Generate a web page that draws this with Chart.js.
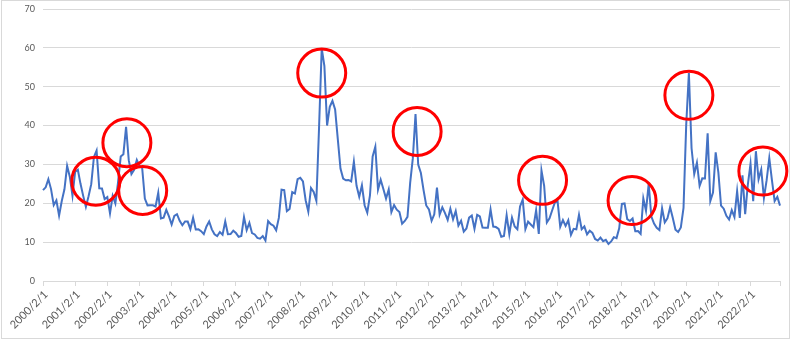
<!DOCTYPE html>
<html>
<head>
<meta charset="utf-8">
<script src="https://cdn.jsdelivr.net/npm/chart.js@4/dist/chart.umd.min.js"></script>
<style>
  html, body { margin: 0; padding: 0; background: #ffffff; }
  #wrap { position: relative; width: 800px; height: 340px; }
</style>
</head>
<body>
<div id="wrap"><canvas id="c" width="800" height="340"></canvas></div>
<script>
// Monthly closing levels, one array per calendar year (2000 starts in February)
const v2000 = [23.37, 24.11, 26.20, 23.65, 19.54, 20.74, 16.84, 20.57, 23.60, 29.65, 26.85];
const v2001 = [21.95, 28.13, 28.64, 25.01, 21.90, 19.06, 21.80, 24.92, 31.93, 33.56, 23.84, 23.80];
const v2002 = [21.09, 21.59, 17.40, 21.91, 19.98, 25.40, 32.03, 32.64, 39.69, 31.10, 27.50, 28.62];
const v2003 = [31.17, 29.63, 29.15, 21.21, 19.47, 19.52, 19.49, 19.18, 22.72, 16.10, 16.32, 18.31];
const v2004 = [16.63, 14.55, 16.74, 17.19, 15.50, 14.34, 15.32, 15.29, 13.34, 16.27, 13.24, 13.29];
const v2005 = [12.82, 12.08, 14.02, 15.31, 13.29, 12.04, 11.57, 12.60, 11.92, 15.32, 12.06, 12.07];
const v2006 = [12.95, 12.34, 11.39, 11.59, 16.44, 13.08, 14.95, 12.31, 11.98, 11.10, 10.91, 11.56];
const v2007 = [10.42, 15.42, 14.64, 14.22, 13.05, 16.23, 23.52, 23.38, 18.00, 18.53, 22.87, 22.50];
const v2008 = [26.20, 26.54, 25.61, 20.79, 17.83, 23.95, 22.94, 20.65, 39.39, 59.89, 55.28, 40.00];
const v2009 = [44.84, 46.35, 44.14, 36.50, 28.92, 26.35, 25.92, 26.01, 25.61, 30.69, 24.51, 21.68];
const v2010 = [24.62, 19.50, 17.59, 22.05, 32.07, 34.54, 23.50, 26.05, 23.70, 21.20, 23.54, 17.75];
const v2011 = [19.53, 18.35, 17.74, 14.75, 15.45, 16.52, 25.25, 31.62, 42.96, 29.96, 27.80, 23.40];
const v2012 = [19.44, 18.43, 15.50, 17.15, 24.06, 17.08, 18.93, 17.47, 15.73, 18.60, 15.87, 18.02];
const v2013 = [14.28, 15.51, 12.70, 13.52, 16.30, 16.86, 13.45, 17.01, 16.60, 13.75, 13.70, 13.72];
const v2014 = [18.41, 14.00, 13.88, 13.41, 11.40, 11.57, 16.95, 12.09, 16.31, 14.03, 13.33, 19.20];
const v2015 = [20.97, 13.34, 15.29, 14.55, 13.84, 18.23, 12.12, 28.43, 24.50, 15.07, 16.13, 18.21];
const v2016 = [20.20, 20.55, 13.95, 15.70, 14.19, 15.63, 11.87, 13.42, 13.29, 17.06, 13.33, 14.04];
const v2017 = [11.99, 12.92, 12.37, 10.82, 10.41, 11.18, 10.26, 10.59, 9.51, 10.18, 11.28, 11.04];
const v2018 = [13.54, 19.85, 19.97, 15.93, 15.43, 16.09, 12.83, 12.86, 12.12, 21.23, 18.07, 25.00];
const v2019 = [16.57, 14.78, 13.71, 13.12, 18.71, 15.08, 16.12, 18.98, 16.24, 13.22, 12.62, 13.78];
const v2020 = [18.84, 40.11, 53.54, 34.15, 27.51, 30.43, 24.46, 26.41, 26.37, 38.02, 20.57, 22.75];
const v2021 = [33.09, 27.95, 19.40, 18.61, 16.76, 15.83, 18.24, 16.48, 23.14, 16.26, 27.19, 17.22];
const v2022 = [24.83, 30.15, 20.56, 33.40, 26.19, 28.71, 21.33, 25.87, 31.62, 25.88, 20.58, 21.67];
const v2023 = [19.40];

// Labelled ticks on the date axis
const yearTicks = ['2000/2/1', '2001/2/1', '2002/2/1', '2003/2/1', '2004/2/1', '2005/2/1',
  '2006/2/1', '2007/2/1', '2008/2/1', '2009/2/1', '2010/2/1', '2011/2/1', '2012/2/1',
  '2013/2/1', '2014/2/1', '2015/2/1', '2016/2/1', '2017/2/1', '2018/2/1', '2019/2/1',
  '2020/2/1', '2021/2/1', '2022/2/1'];

// Highlighted episodes: centre month index and level of each ring
const highlightMonth = [19.7, 31.3, 37.2, 104.0, 139.6, 186.4, 219.8, 241.0, 268.6];
const highlightLevel = [25.7, 35.6, 23.3, 53.5, 38.5, 25.9, 20.7, 47.8, 28.3];

const series = [].concat(v2000, v2001, v2002, v2003, v2004, v2005, v2006, v2007, v2008,
  v2009, v2010, v2011, v2012, v2013, v2014, v2015, v2016, v2017, v2018, v2019, v2020,
  v2021, v2022, v2023);

// One category per month, starting February 2000
const months = series.map((_, i) => {
  const m = 1 + i;                      // months after January 2000
  return (2000 + Math.floor(m / 12)) + '/' + (m % 12 + 1) + '/1';
});

// Tick marks: every labelled year plus the end of the axis
const tickIndex = months
  .map((label, i) => (yearTicks.includes(label) ? i : -1))
  .filter(i => i >= 0)
  .concat([months.length - 1]);

const framePlugin = {
  id: 'frame',
  beforeDraw(chart) {
    const ctx = chart.ctx;
    ctx.save();
    ctx.fillStyle = '#ffffff';
    ctx.fillRect(0, 0, chart.width, chart.height);
    ctx.strokeStyle = '#d9d9d9';
    ctx.lineWidth = 1;
    ctx.strokeRect(1.5, 0.5, 788, 338);
    ctx.restore();
  }
};

const ringPlugin = {
  id: 'rings',
  afterDatasetsDraw(chart) {
    const { ctx, scales: { x, y } } = chart;
    ctx.save();
    ctx.strokeStyle = '#ff0000';
    ctx.lineWidth = 3;
    highlightMonth.forEach((m, i) => {
      ctx.beginPath();
      ctx.arc(x.getPixelForValue(m), y.getPixelForValue(highlightLevel[i]), 24, 0, Math.PI * 2);
      ctx.stroke();
    });
    ctx.restore();
  }
};

new Chart(document.getElementById('c'), {
  type: 'line',
  data: {
    labels: months,
    datasets: [{
      data: series,
      borderColor: '#4472c4',
      borderWidth: 2,
      pointRadius: 0,
      tension: 0,
      fill: false
    }]
  },
  options: {
    responsive: false,
    animation: false,
    devicePixelRatio: 1,
    layout: { padding: { left: 0, right: 20, top: 9, bottom: 0 } },
    plugins: { legend: { display: false }, tooltip: { enabled: false } },
    scales: {
      x: {
        type: 'category',
        offset: false,
        grid: { display: true, drawOnChartArea: false, drawTicks: true, tickLength: 5, color: '#d9d9d9' },
        border: { display: true, color: '#d9d9d9', width: 1 },
        afterBuildTicks(scale) { scale.ticks = tickIndex.map(v => ({ value: v })); },
        ticks: {
          autoSkip: false,
          minRotation: 45,
          maxRotation: 45,
          padding: 2,
          labelOffset: 3,
          color: '#595959',
          font: { family: 'Lato', size: 11 },
          callback(v) { return yearTicks.includes(months[v]) ? months[v] : ''; }
        },
        afterFit(s) { s.height = 59; }
      },
      y: {
        min: 0,
        max: 70,
        ticks: { stepSize: 10, padding: 0, color: '#595959', font: { family: 'Lato', size: 9 } },
        grid: { color: '#d9d9d9', drawTicks: true, tickLength: 8, tickColor: 'rgba(0,0,0,0)' },
        border: { display: false },
        afterFit(s) { s.width = 43; }
      }
    }
  },
  plugins: [framePlugin, ringPlugin]
});
</script>
</body>
</html>
